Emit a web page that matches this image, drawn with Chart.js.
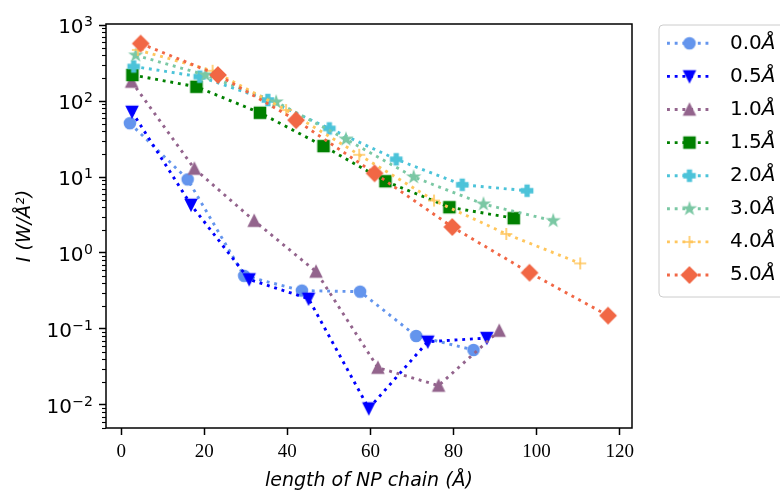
<!DOCTYPE html>
<html>
<head>
<meta charset="utf-8">
<script src="https://cdn.jsdelivr.net/npm/chart.js@4/dist/chart.umd.min.js"></script>
<style>
  html, body { margin:0; padding:0; background:#fff; }
  #wrap { width:780px; height:493px; }
</style>
</head>
<body>
<div id="wrap"><canvas id="grafico" width="780" height="493"></canvas></div>
<script>
// series labels (gap widths)
const rotulos = ["0.0", "0.5", "1.0", "1.5", "2.0", "3.0", "4.0", "5.0"];

// chain length (Å) per series
const len00 = [2.1, 16.0, 29.6, 43.5, 57.5, 71.0, 84.8];
const len05 = [2.6, 16.8, 30.8, 45.1, 59.6, 73.8, 88.0];
const len10 = [2.5, 17.6, 32.0, 46.9, 61.8, 76.4, 91.0];
const len15 = [2.7, 18.1, 33.4, 48.7, 63.6, 79.0, 94.5];
const len20 = [3.0, 18.9, 35.3, 50.1, 66.2, 82.1, 97.7];
const len30 = [3.5, 20.3, 37.3, 54.1, 70.4, 87.2, 104.0];
const len40 = [4.0, 22.0, 39.7, 57.3, 75.3, 92.7, 110.5];
const len50 = [4.7, 23.3, 42.1, 61.0, 79.7, 98.3, 117.2];

// intensity I (W/Å²) per series
const int00 = [51, 9.3, 0.50, 0.32, 0.31, 0.081, 0.053];
const int05 = [72, 4.3, 0.45, 0.25, 0.0090, 0.068, 0.076];
const int10 = [180, 12.9, 2.66, 0.57, 0.031, 0.018, 0.095];
const int15 = [220, 154, 70, 25.5, 8.8, 4.0, 2.87];
const int20 = [285, 209, 103, 43.6, 17.1, 7.9, 6.6];
const int30 = [400, 220, 97, 31.4, 10, 4.4, 2.66];
const int40 = [470, 250, 76, 19.6, 4.9, 1.78, 0.73];
const int50 = [570, 220, 56, 11.2, 2.2, 0.55, 0.15];

// ticks
const xTicks = [0, 20, 40, 60, 80, 100, 120];
const yTicks = [0.01, 0.1, 1, 10, 100, 1000];
const yTickExp = ["\u22122", "\u22121", "0", "1", "2", "3"];

const cores = ["#6495ED", "#0000FF", "#93648D", "#008000", "#4CC3D9", "#7BC8A4", "#FFC65D", "#F16745"];
const formas = ["o", "v", "^", "s", "P", "*", "+", "D"];
const comprimentos = [len00, len05, len10, len15, len20, len30, len40, len50];
const intensidades = [int00, int05, int10, int15, int20, int30, int40, int50];

const LW = 2.9, DASH = [2.9, 4.8], MS = 11, MEW = 1.6;

function marcador(forma, cor){
  const c = document.createElement("canvas");
  c.width = 24; c.height = 24;
  const g = c.getContext("2d");
  const m = 12, s = MS/2;
  g.fillStyle = cor; g.strokeStyle = cor; g.lineWidth = MEW; g.lineJoin = "miter";
  g.beginPath();
  const poly = (pts) => { pts.forEach((p,i) => i ? g.lineTo(m+p[0], m+p[1]) : g.moveTo(m+p[0], m+p[1])); g.closePath(); };
  if(forma === "o"){ g.arc(m, m, s, 0, Math.PI*2); }
  else if(forma === "v"){ poly([[0,s],[-s,-s],[s,-s]]); }
  else if(forma === "^"){ poly([[0,-s],[-s,s],[s,s]]); }
  else if(forma === "s"){ poly([[-s,-s],[s,-s],[s,s],[-s,s]]); }
  else if(forma === "D"){ const d = s*Math.SQRT2; poly([[0,-d],[d,0],[0,d],[-d,0]]); }
  else if(forma === "P"){
    const u = MS/6;
    poly([[-1,-3],[1,-3],[1,-1],[3,-1],[3,1],[1,1],[1,3],[-1,3],[-1,1],[-3,1],[-3,-1],[-1,-1]].map(p => [p[0]*u, p[1]*u]));
  }
  else if(forma === "*"){
    const pts = [];
    for(let i=0;i<10;i++){ const r = i%2 ? s*0.381966 : s; const a = -Math.PI/2 + i*Math.PI/5; pts.push([r*Math.cos(a), r*Math.sin(a)]); }
    poly(pts);
  }
  else if(forma === "+"){
    g.moveTo(m-s-0.5, m); g.lineTo(m+s+0.5, m); g.moveTo(m, m-s-0.5); g.lineTo(m, m+s+0.5);
    g.stroke(); return c;
  }
  g.fill(); g.stroke();
  return c;
}

const icones = formas.map((f,i) => marcador(f, cores[i]));

const datasets = rotulos.map((r,i) => ({
  label: r + "Å",
  data: comprimentos[i].map((x,j) => ({x, y: intensidades[i][j]})),
  borderColor: cores[i],
  backgroundColor: cores[i],
  borderWidth: LW,
  borderDash: DASH,
  borderCapStyle: "butt",
  pointStyle: icones[i],
  pointRadius: 7,
  tension: 0,
  order: rotulos.length - i
}));

const molduraELegenda = {
  id: "molduraELegenda",
  afterDraw(chart){
    const {ctx, chartArea: a} = chart;
    const y = chart.scales.y;
    ctx.save();
    // minor ticks of log axis
    ctx.strokeStyle = "#000"; ctx.lineWidth = 1.1;
    for(let k=-3;k<=3;k++){
      for(let m=2;m<=9;m++){
        const v = m*Math.pow(10,k);
        if(v < y.min || v > y.max) continue;
        const py = Math.round(y.getPixelForValue(v)) + 0.5;
        ctx.beginPath(); ctx.moveTo(a.left - 4, py); ctx.lineTo(a.left, py); ctx.stroke();
      }
    }
    // y tick labels: 10 with raised exponent
    ctx.fillStyle = "#000"; ctx.textBaseline = "alphabetic"; ctx.textAlign = "left";
    yTicks.forEach((v,i) => {
      const py = y.getPixelForValue(v);
      ctx.font = "14px 'DejaVu Sans'";
      const we = ctx.measureText(yTickExp[i]).width;
      ctx.font = "20px 'DejaVu Sans'";
      const wb = ctx.measureText("10").width;
      const x0 = 93 - we - wb - 0.5;
      ctx.fillText("10", x0, py + 7.8);
      ctx.font = "14px 'DejaVu Sans'";
      ctx.fillText(yTickExp[i], x0 + wb + 0.5, py + 1.2);
    });
    // frame
    ctx.lineWidth = 1.5; ctx.strokeStyle = "#000";
    ctx.strokeRect(a.left, a.top, a.right - a.left, a.bottom - a.top);
    // legend
    const lx = 659, ly = 25, lh = 33.1, y0 = 43.3;
    ctx.beginPath();
    ctx.roundRect(lx, ly, 150, 272, 4);
    ctx.fillStyle = "rgba(255,255,255,0.8)"; ctx.fill();
    ctx.strokeStyle = "#cccccc"; ctx.lineWidth = 1; ctx.stroke();
    rotulos.forEach((r,i) => {
      const yy = y0 + i*lh;
      ctx.strokeStyle = cores[i]; ctx.lineWidth = LW; ctx.setLineDash(DASH); ctx.lineCap = "butt";
      ctx.beginPath(); ctx.moveTo(667, yy); ctx.lineTo(712, yy); ctx.stroke();
      ctx.setLineDash([]);
      ctx.drawImage(icones[i], 689.5 - 12, yy - 12);
      ctx.fillStyle = "#000"; ctx.textBaseline = "middle"; ctx.textAlign = "left";
      ctx.font = "20px 'DejaVu Sans'";
      ctx.fillText(r, 730, yy);
      const w = ctx.measureText(r).width;
      ctx.font = "italic 20px 'DejaVu Sans'";
      ctx.fillText("Å", 730 + w, yy);
    });
    ctx.restore();
  }
};

new Chart(document.getElementById("grafico"), {
  type: "line",
  data: { datasets },
  options: {
    responsive: false,
    animation: false,
    layout: { padding: { top: 24, right: 148, left: 0, bottom: 0 } },
    plugins: { legend: { display: false }, tooltip: { enabled: false } },
    scales: {
      x: {
        type: "linear", min: -3.66, max: 122.96,
        afterBuildTicks: (s) => { s.ticks = xTicks.map(v => ({value: v})); },
        afterFit: (s) => { s.height = 65; },
        ticks: { color: "#000", padding: 6, font: { family: "'Liberation Serif'", size: 19 } },
        grid: { drawOnChartArea: false, tickLength: 7, tickWidth: 1.5, tickColor: "#000" },
        border: { display: false },
        title: { display: true, text: "length of NP chain (Å)", color: "#000", padding: { top: 0, bottom: 0.6 }, font: { family: "'DejaVu Sans'", size: 19, style: "italic" } }
      },
      y: {
        type: "logarithmic", min: 0.00498, max: 1031,
        afterBuildTicks: (s) => { s.ticks = yTicks.map(v => ({value: v, major: true})); },
        afterFit: (s) => { s.width = 106; },
        ticks: { display: false },
        grid: { drawOnChartArea: false, tickLength: 7, tickWidth: 1.5, tickColor: "#000" },
        border: { display: false },
        title: { display: true, text: "I (W/Å²)", color: "#000", padding: { top: 13.6, bottom: 0 }, font: { family: "'DejaVu Sans'", size: 19, style: "italic" } }
      }
    }
  },
  plugins: [molduraELegenda]
});
</script>
</body>
</html>
